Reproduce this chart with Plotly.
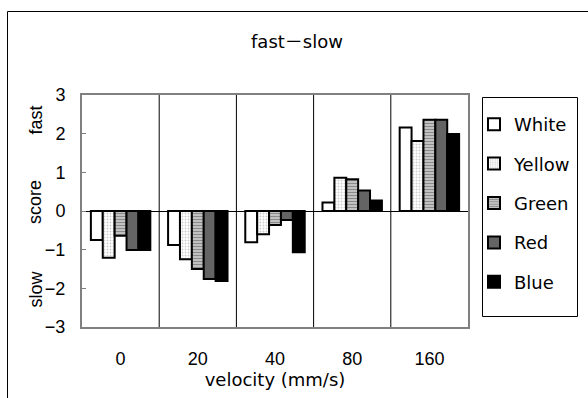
import plotly.graph_objects as go

# Scores per velocity (mm/s) for each colour condition
velocities = ["0", "20", "40", "80", "160"]
series_names = ["White", "Yellow", "Green", "Red", "Blue"]
white = [-0.75, -0.88, -0.81, 0.22, 2.16]
yellow = [-1.21, -1.25, -0.60, 0.86, 1.81]
green = [-0.64, -1.50, -0.36, 0.82, 2.36]
red = [-1.01, -1.76, -0.23, 0.53, 2.36]
blue = [-1.01, -1.81, -1.07, 0.27, 1.99]
y_ticks = [3, 2, 1, 0, -1, -2, -3]

W, H = 588, 398
L, R, T, B = 82, 120, 95, 71
PW, PH = W - L - R, H - T - B

def px_x(px):
    return (px - L) / PW

def px_y(py):
    return (H - B - py) / PH

TEXT_FONT = "DejaVu Sans, Noto Sans CJK JP, sans-serif"
NUM_FONT = "Liberation Sans, Arial, sans-serif"

styles = {
    "White": dict(color="white"),
    "Yellow": dict(color="white", pattern=dict(shape=".", fgcolor="#999999", bgcolor="white", size=3, solidity=0.3)),
    "Green": dict(color="#c8c8c8", pattern=dict(shape="-", fgcolor="#404040", bgcolor="#d4d4d4", size=3, solidity=0.5)),
    "Red": dict(color="#444444", pattern=dict(shape=".", fgcolor="#000000", bgcolor="#9a9a9a", size=2, solidity=0.7)),
    "Blue": dict(color="black"),
}

fig = go.Figure()
for name, vals in zip(series_names, [white, yellow, green, red, blue]):
    fig.add_trace(go.Bar(
        x=velocities, y=vals, name=name, legendgroup=name,
        marker=dict(line=dict(color="black", width=2), **styles[name]),
    ))

# vertical separators between velocity groups
shapes = []
for i in range(1, len(velocities)):
    shapes.append(dict(type="line", xref="x", yref="paper", x0=i - 0.5, x1=i - 0.5,
                       y0=0, y1=1, line=dict(color="black", width=1), layer="below"))
# outer chart frame
shapes.append(dict(type="rect", xref="paper", yref="paper",
                   x0=px_x(7.5), x1=px_x(620), y0=px_y(430), y1=px_y(11.5),
                   line=dict(color="black", width=1), fillcolor="rgba(0,0,0,0)"))
# legend frame
shapes.append(dict(type="rect", xref="paper", yref="paper",
                   x0=px_x(482.5), x1=px_x(577.5), y0=px_y(316.5), y1=px_y(97.5),
                   line=dict(color="black", width=1), fillcolor="white", layer="below"))

annotations = []
for label, py in [("fast", 104), ("score", 202), ("slow", 310)]:
    annotations.append(dict(text=label, xref="paper", yref="paper", x=px_x(23), y=px_y(py),
                            textangle=-90, showarrow=False,
                            font=dict(size=18, color="black", family=NUM_FONT)))

fig.update_layout(
    width=W, height=H,
    margin=dict(l=L, r=R, t=T, b=B),
    paper_bgcolor="white", plot_bgcolor="white",
    font=dict(family=TEXT_FONT, size=18, color="black"),
    title=dict(text="fast－slow", x=297 / W, xanchor="center", y=1 - 42 / H, yanchor="middle",
               font=dict(size=18, color="black", family=TEXT_FONT)),
    barmode="group", bargap=0.23, bargroupgap=0,
    shapes=shapes, annotations=annotations,
    legend=dict(x=px_x(474), xanchor="left", y=px_y(106), yanchor="top",
                borderwidth=0, bgcolor="rgba(0,0,0,0)",
                tracegroupgap=13, traceorder="grouped",
                font=dict(size=18, color="black", family=TEXT_FONT)),
)
fig.update_xaxes(
    showgrid=False, showline=True, linecolor="#808080", linewidth=2, mirror=True,
    ticks="", ticklabelstandoff=14, tickfont=dict(size=18, family=NUM_FONT),
    title=dict(text="velocity (mm/s)", standoff=6, font=dict(size=18, family=TEXT_FONT)),
)
fig.update_yaxes(
    range=[-3, 3], tickvals=y_ticks, showgrid=False,
    showline=True, linecolor="#808080", linewidth=2, mirror=True,
    ticks="inside", ticklen=4, tickcolor="#808080", ticklabelstandoff=11,
    zeroline=True, zerolinecolor="black", zerolinewidth=1,
    tickfont=dict(size=18, family=NUM_FONT),
)

fig.write_html("out.html")
